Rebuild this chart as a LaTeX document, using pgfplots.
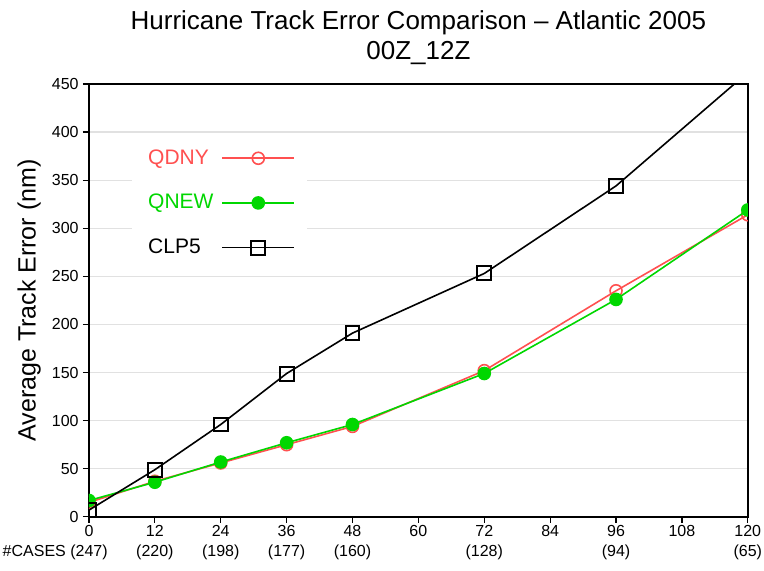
\documentclass[border=0pt]{standalone}
\usepackage{fontspec}
\setmainfont{Liberation Sans}
\usepackage{pgfplots}
\pgfplotsset{compat=1.18}
\definecolor{qdny}{RGB}{255,80,80}
\definecolor{qnew}{RGB}{0,215,0}
\definecolor{gridgray}{RGB}{225,225,225}

\begin{document}
\begin{tikzpicture}
\begin{axis}[
  scale only axis, width=329.5pt, height=216.5pt,
  xmin=0, xmax=120, ymin=0, ymax=450,
  xtick={0,12,...,120}, ytick={0,50,...,450},
  xticklabels={
    {0\\[1pt]\llap{\#CASES\ }(247)}, {12\\[1pt](220)}, {24\\[1pt](198)},
    {36\\[1pt](177)}, {48\\[1pt](160)}, {60\\[1pt]\phantom{(0)}},
    {72\\[1pt](128)}, {84\\[1pt]\phantom{(0)}}, {96\\[1pt](94)},
    {108\\[1pt]\phantom{(0)}}, {120\\[1pt](65)}},
  xticklabel style={align=center, font=\fontsize{8}{9}\selectfont, inner sep=1pt},
  yticklabel style={font=\fontsize{8}{9}\selectfont, inner sep=2pt},
  /pgf/number format/assume math mode=true,
  axis line style={line width=1pt},
  tick style={black, line width=0.6pt},
  tick align=outside, major tick length=3pt,
  xtick pos=bottom, ytick pos=left,
  ymajorgrids, grid style={gridgray, line width=0.6pt},
  ylabel={Average Track Error (nm)},
  ylabel style={font=\fontsize{12.5}{14}\selectfont, yshift=0pt},
  title={Hurricane Track Error Comparison -- Atlantic 2005\\00Z\_12Z},
  title style={align=center, font=\fontsize{13}{15}\selectfont, yshift=0pt},
  clip marker paths=true,
  legend plot pos=right,
  legend cell align=left,
  legend style={at={(0.065,0.882)}, anchor=north west, draw=none, fill=white,
    font=\fontsize{10.5}{12}\selectfont, row sep=9.5pt, column sep=2pt,
    inner xsep=6pt, inner ysep=5pt},
  legend image code/.code={
    \draw[mark repeat=2, mark phase=2] plot coordinates {(0pt,0pt) (18pt,0pt) (36pt,0pt)};
  },
]
\addplot[qdny, line width=0.8pt, mark=o, mark size=3pt, mark options={line width=0.8pt}]
  coordinates {(0,15) (12,37) (24,56) (36,75) (48,94) (72,152) (96,235) (120,314)};
\addlegendentry{\textcolor{qdny}{QDNY}}
\addplot[qnew, line width=0.8pt, mark=*, mark size=3pt, mark options={fill=qnew}]
  coordinates {(0,17) (12,36) (24,57) (36,77) (48,96) (72,149) (96,226) (120,319)};
\addlegendentry{\textcolor{qnew}{QNEW}}
\addplot[black, line width=0.8pt, mark=square, mark size=3.5pt, mark options={line width=1pt}]
  coordinates {(0,7) (12,49) (24,96) (36,149) (48,191) (72,253) (96,344) (120,462)};
\addlegendentry{CLP5}
\end{axis}
\path ([shift={(-44.5pt,-27pt)}]current axis.south west)
  rectangle ([shift={(8pt,42pt)}]current axis.north east);
\end{tikzpicture}
\end{document}
